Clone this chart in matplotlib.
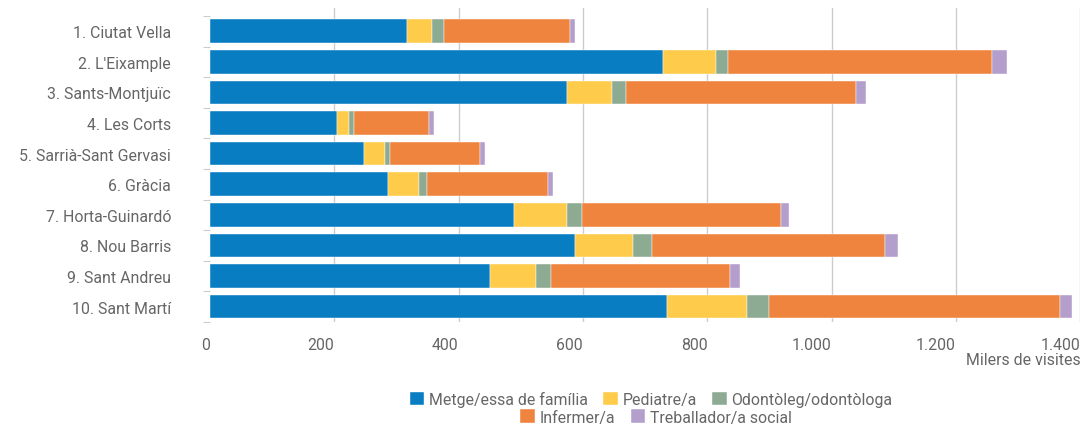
import matplotlib.pyplot as plt
from matplotlib.ticker import FuncFormatter, FixedLocator

# Dades (milers de visites)
districtes = ["1. Ciutat Vella", "2. L'Eixample", "3. Sants-Montjuïc", "4. Les Corts",
              "5. Sarrià-Sant Gervasi", "6. Gràcia", "7. Horta-Guinardó", "8. Nou Barris",
              "9. Sant Andreu", "10. Sant Martí"]
metge = [317, 728, 575, 204, 247, 286, 489, 587, 450, 735]
pediatre = [40, 86, 71, 20, 35, 51, 86, 93, 74, 129]
odontoleg = [19, 19, 23, 8, 8, 12, 24, 31, 24, 35]
infermer = [203, 425, 370, 121, 144, 194, 320, 375, 289, 468]
treballador = [8, 24, 17, 7, 8, 8, 12, 20, 16, 20]

series = [
    ("Metge/essa de família", metge, "#087dc2"),
    ("Pediatre/a", pediatre, "#fecb4a"),
    ("Odontòleg/odontòloga", odontoleg, "#8dab93"),
    ("Infermer/a", infermer, "#ef843e"),
    ("Treballador/a social", treballador, "#b49fcc"),
]

text_color = "#666666"
fs = 11.4
plt.rcParams["font.family"] = ["Roboto", "DejaVu Sans"]
plt.rcParams["font.size"] = fs

fig = plt.figure(figsize=(10.85, 4.27), dpi=100)
ax = fig.add_axes([210 / 1085, 1 - 323 / 427, 870.3 / 1085, 314 / 427])

y = list(range(len(districtes)))
left = [0] * len(districtes)
handles = []
for nom, valors, color in series:
    b = ax.barh(y, valors, left=left, height=0.77, color=color,
                edgecolor="white", linewidth=0.3, label=nom)
    handles.append(b)
    left = [l + v for l, v in zip(left, valors)]

ax.set_xlim(0, 1400)
ax.set_ylim(9.5, -0.76)
ax.set_xticks(range(0, 1401, 200))
ax.xaxis.set_major_formatter(FuncFormatter(lambda v, p: f"{v:,.0f}".replace(",", ".")))
ax.set_yticks(y)
ax.set_yticklabels(districtes)
ax.yaxis.set_minor_locator(FixedLocator([i - 0.5 for i in range(len(districtes) + 1)]))

ax.tick_params(axis="x", length=0, pad=11, colors=text_color, labelsize=fs)
ax.tick_params(axis="y", which="major", length=0, pad=28, colors=text_color, labelsize=fs)
ax.tick_params(axis="y", which="minor", length=5, width=0.8, color="#cccccc")
for lab in ax.get_xticklabels():
    lab.set_ha("right")

ax.grid(axis="x", color="#cccccc", linewidth=1)
ax.xaxis.get_gridlines()[0].set_visible(False)
ax.set_axisbelow(True)
for s in ax.spines.values():
    s.set_visible(False)

ax.set_xlabel("Milers de visites", loc="right", color=text_color, labelpad=0)

# Llegenda en dues files centrades
fig.legend(handles[:3], [s[0] for s in series[:3]], ncol=3, loc="center",
           bbox_to_anchor=(651 / 1085, 1 - 400 / 427), frameon=False,
           handlelength=0.9, handleheight=0.9, handletextpad=0.3, columnspacing=1.0,
           borderpad=0, labelcolor=text_color, fontsize=fs)
fig.legend(handles[3:], [s[0] for s in series[3:]], ncol=2, loc="center",
           bbox_to_anchor=(656 / 1085, 1 - 418 / 427), frameon=False,
           handlelength=0.9, handleheight=0.9, handletextpad=0.3, columnspacing=1.0,
           borderpad=0, labelcolor=text_color, fontsize=fs)

fig.savefig("out.png", dpi=100)
